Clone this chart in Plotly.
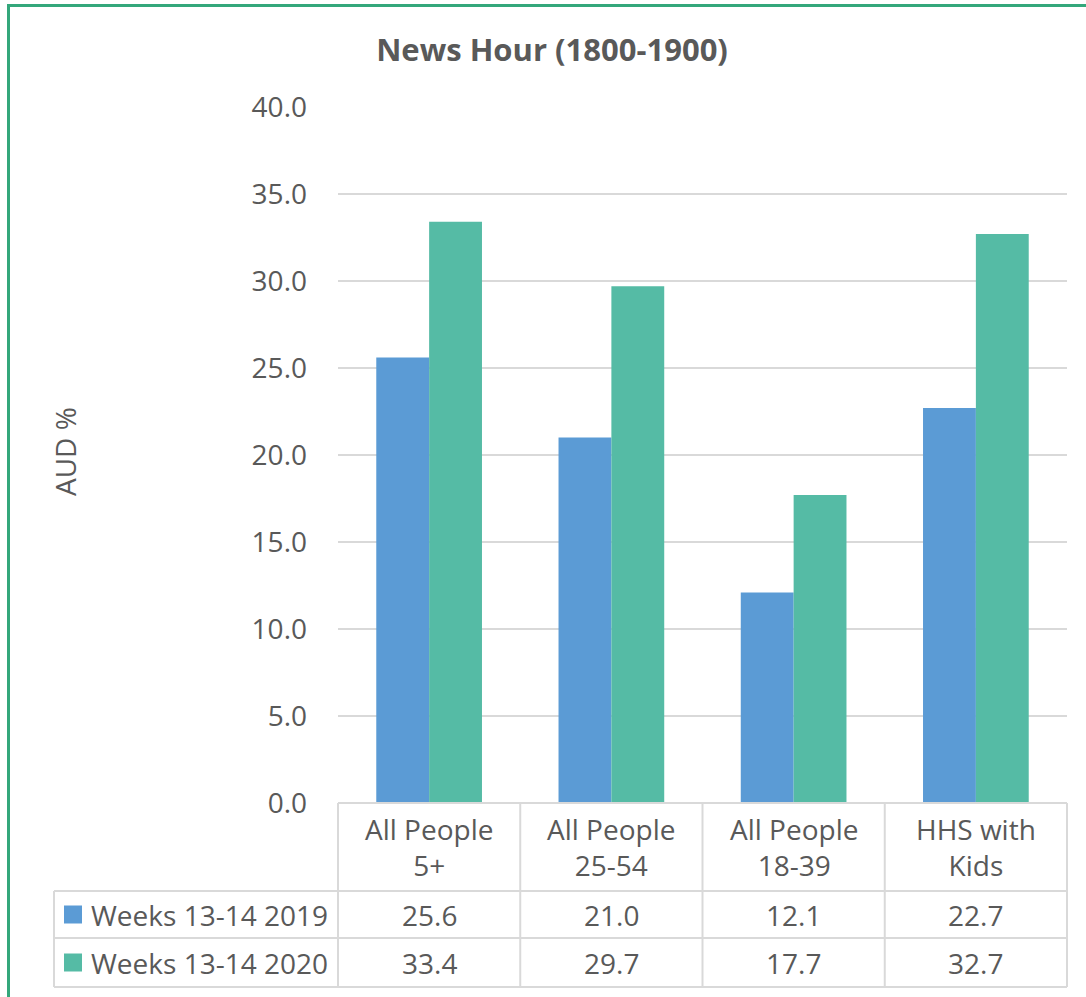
import plotly.graph_objects as go

categories = ["All People<br>5+", "All People<br>25-54", "All People<br>18-39", "HHS with<br>Kids"]
series_names = ["Weeks 13-14 2019", "Weeks 13-14 2020"]
values_2019 = [25.6, 21.0, 12.1, 22.7]
values_2020 = [33.4, 29.7, 17.7, 32.7]
series_values = [values_2019, values_2020]
colors = ["#5B9BD5", "#55BBA5"]

W, H = 1086, 997
L, R, T, B = 338, 1067, 107, 803
PW, PH = R - L, B - T
TXT = "#595959"
GRID = "#D9D9D9"
FONT = "Open Sans"
FS = 28

def px(x):
    return (x - L) / PW

def py(y):
    return (B - y) / PH

fig = go.Figure()
for name, vals, col in zip(series_names, series_values, colors):
    fig.add_trace(go.Bar(x=categories, y=vals, name=name, marker=dict(color=col, line=dict(width=0))))

shapes = []
annotations = []

# table grid
row_y = [B, 891, 938, 987]
col_x = [L + i * PW / len(categories) for i in range(len(categories) + 1)]
table_left = 54
line = dict(color=GRID, width=2)
shapes.append(dict(type="line", xref="paper", yref="paper", x0=px(col_x[0]), x1=px(col_x[-1]), y0=py(B), y1=py(B), line=line))
for yv in row_y[1:]:
    shapes.append(dict(type="line", xref="paper", yref="paper", x0=px(table_left), x1=px(col_x[-1]), y0=py(yv), y1=py(yv), line=line))
for xv in col_x:
    shapes.append(dict(type="line", xref="paper", yref="paper", x0=px(xv), x1=px(xv), y0=py(B), y1=py(row_y[-1]), line=line))
shapes.append(dict(type="line", xref="paper", yref="paper", x0=px(table_left), x1=px(table_left), y0=py(row_y[1]), y1=py(row_y[-1]), line=line))

# category header labels
for c in categories:
    annotations.append(dict(x=c, xref="x", y=py((row_y[0] + row_y[1]) / 2), yref="paper",
                            text=c, showarrow=False, font=dict(family=FONT, size=FS, color=TXT),
                            xanchor="center", yanchor="middle"))

# rows: legend keys, names, values
for i, (name, vals, col) in enumerate(zip(series_names, series_values, colors)):
    yc = (row_y[i + 1] + row_y[i + 2]) / 2
    shapes.append(dict(type="rect", xref="paper", yref="paper", x0=px(64), x1=px(82),
                       y0=py(yc - 9), y1=py(yc + 9), fillcolor=col, line=dict(width=0)))
    annotations.append(dict(x=px(89), xref="paper", y=py(yc), yref="paper", text=name, showarrow=False,
                            font=dict(family=FONT, size=FS, color=TXT), xanchor="left", yanchor="middle"))
    for c, v in zip(categories, vals):
        annotations.append(dict(x=c, xref="x", y=py(yc), yref="paper", text=f"{v:.1f}", showarrow=False,
                                font=dict(family=FONT, size=FS, color=TXT), xanchor="center", yanchor="middle"))

# y-axis title
annotations.append(dict(x=px(65), xref="paper", y=py(452), yref="paper", text="AUD %", textangle=-90,
                        showarrow=False, font=dict(family=FONT, size=FS, color=TXT),
                        xanchor="center", yanchor="middle"))

# green frame
shapes.append(dict(type="rect", xref="paper", yref="paper", x0=px(8.5), x1=px(W + 20), y0=py(5.5), y1=py(H + 20),
                   line=dict(color="#34A77B", width=3), fillcolor="rgba(0,0,0,0)"))

fig.update_layout(
    width=W, height=H,
    margin=dict(l=L, r=W - R, t=T, b=H - B, pad=0),
    paper_bgcolor="white", plot_bgcolor="white",
    showlegend=False,
    barmode="group", bargap=0.42, bargroupgap=0,
    title=dict(text="<b>News Hour (1800-1900)</b>", x=px(552), xanchor="center", xref="paper",
               y=1 - 50 / H, yanchor="middle", yref="container",
               font=dict(family=FONT, size=31, color=TXT)),
    xaxis=dict(showticklabels=False, showgrid=False, zeroline=False, showline=False, ticks=""),
    yaxis=dict(range=[0, 40], dtick=5, tickformat=".1f", showgrid=True, gridcolor=GRID, gridwidth=2,
               zeroline=False, showline=False, ticks="", ticklabelstandoff=30,
               tickfont=dict(family=FONT, size=FS, color=TXT)),
    shapes=shapes,
    annotations=annotations,
)

fig.write_html("out.html", config={"displayModeBar": False},
               post_script="document.body.style.margin='0';document.body.style.overflow='hidden';")
